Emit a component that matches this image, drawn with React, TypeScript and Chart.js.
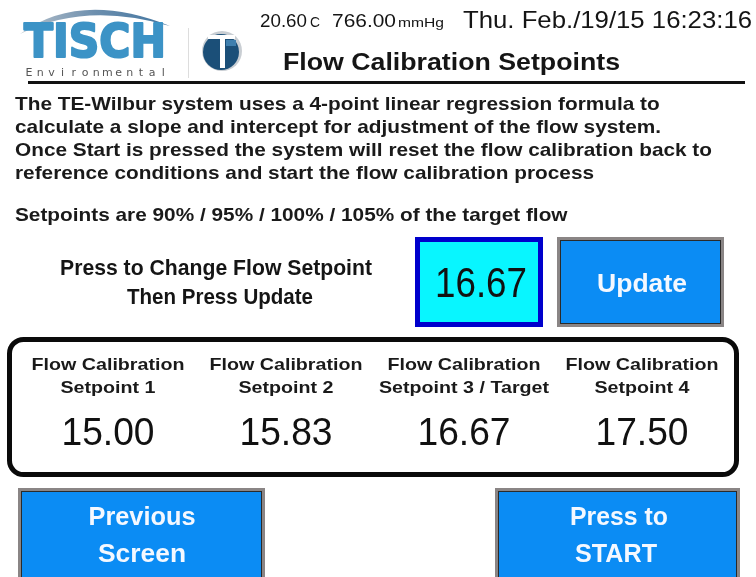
import React, { useEffect, useRef } from "react";
import { Chart, registerables } from "chart.js";

Chart.register(...registerables);

// ---- data ----
const headerLine1 = ["Flow Calibration", "Flow Calibration", "Flow Calibration", "Flow Calibration"];
const setpointNames = ["Setpoint 1", "Setpoint 2", "Setpoint 3 / Target", "Setpoint 4"];
const setpointValues = [15.0, 15.83, 16.67, 17.5];
const setpointPercents = [90, 95, 100, 105];
const targetFlow = 16.67;
const temperature = "20.60";
const pressure = "766.00";
const dateText = "Thu. Feb./19/15 16:23:16";
const titleText = "Flow Calibration Setpoints";
const paragraph = [
  "The TE-Wilbur system uses a 4-point linear regression formula to",
  "calculate a slope and intercept for adjustment of the flow system.",
  "Once Start is pressed the system will reset the flow calibration back to",
  "reference conditions and start the flow calibration process",
];
const setpointNote = "Setpoints are " + setpointPercents.map((p) => p + "%").join(" / ") + " of the target flow";

const NARROW = "'Liberation Sans', Arial, sans-serif";
const SANS = "'Liberation Sans', Arial, sans-serif";
const INK = "#151515";

function txt(ctx: any, s: string, x: number, y: number, font: string, color: any, align: string = "left", sx = 1) {
  ctx.save();
  ctx.font = font;
  ctx.fillStyle = color;
  ctx.textAlign = align;
  ctx.textBaseline = "alphabetic";
  ctx.translate(x, y);
  ctx.scale(sx, 1);
  ctx.fillText(s, 0, 0);
  ctx.restore();
}
function fitScale(ctx: any, s: string, font: string, w: number) {
  ctx.save();
  ctx.font = font;
  const m = ctx.measureText(s).width;
  ctx.restore();
  return w / m;
}
function txtW(ctx: any, s: string, x: number, y: number, font: string, color: any, align: string, w: number) {
  txt(ctx, s, x, y, font, color, align, fitScale(ctx, s, font, w));
}
function button(ctx: any, x1: number, y1: number, x2: number, y2: number) {
  ctx.fillStyle = "#8a8585";
  ctx.fillRect(x1, y1, x2 - x1, y2 - y1);
  ctx.fillStyle = "#2a2a2a";
  ctx.fillRect(x1 + 3, y1 + 3, x2 - x1 - 6, y2 - y1 - 6);
  ctx.fillStyle = "#0b8cf4";
  ctx.fillRect(x1 + 4, y1 + 4, x2 - x1 - 8, y2 - y1 - 8);
}

const screenPlugin = {
  id: "screen",
  beforeDraw(chart: any) {
    const ctx = chart.ctx;
    const xs = chart.scales.x;
    ctx.save();
    ctx.fillStyle = "#ffffff";
    ctx.fillRect(0, 0, chart.width, chart.height);

    // --- logo swoosh ---
    const g = ctx.createLinearGradient(20, 0, 170, 0);
    g.addColorStop(0, "#b9c3cc");
    g.addColorStop(0.5, "#6d8fae");
    g.addColorStop(1, "#3f74a0");
    ctx.fillStyle = g;
    ctx.beginPath();
    ctx.moveTo(20, 34);
    ctx.quadraticCurveTo(80, -10, 170, 26);
    ctx.quadraticCurveTo(85, 1, 20, 34);
    ctx.fill();

    // TISCH
    const tg = ctx.createLinearGradient(0, 22, 0, 57);
    tg.addColorStop(0, "#3c93c6");
    tg.addColorStop(1, "#14587f");
    const tFont = "bold 47px 'DejaVu Sans', sans-serif";
    const sxT = fitScale(ctx, "TISCH", tFont, 142);
    ctx.save();
    ctx.font = tFont;
    ctx.translate(24, 57);
    ctx.scale(sxT, 1);
    ctx.fillStyle = tg;
    ctx.strokeStyle = tg;
    ctx.lineWidth = 2.2;
    ctx.lineJoin = "round";
    ctx.fillText("TISCH", 0, 0);
    ctx.strokeText("TISCH", 0, 0);
    ctx.restore();
    // Environmental
    const env = "Environmental";
    for (let i = 0; i < env.length; i++) {
      txt(ctx, env[i], 29 + i * 11.2, 76, "11px 'DejaVu Sans', sans-serif", "#555", "center");
    }
    // separator
    ctx.strokeStyle = "#dddddd";
    ctx.lineWidth = 1;
    ctx.beginPath();
    ctx.moveTo(188.5, 28);
    ctx.lineTo(188.5, 78);
    ctx.stroke();
    // emblem
    ctx.fillStyle = "#c9ced3";
    ctx.beginPath();
    ctx.arc(222, 51, 20, 0, Math.PI * 2);
    ctx.fill();
    ctx.fillStyle = "#1b4f78";
    ctx.beginPath();
    ctx.arc(221, 52, 18, 0, Math.PI * 2);
    ctx.fill();
    ctx.fillStyle = "#ffffff";
    ctx.fillRect(208, 35, 27, 4);
    ctx.fillRect(220, 35, 5, 33);
    ctx.fillStyle = "#3f7fae";
    ctx.fillRect(226, 40, 10, 6);

    // top status
    txtW(ctx, temperature, 260, 27, "18px " + NARROW, INK, "left", 47);
    txtW(ctx, "C", 310, 27, "14px " + NARROW, INK, "left", 10);
    txtW(ctx, pressure, 332, 27, "18px " + NARROW, INK, "left", 64);
    txtW(ctx, "mmHg", 398, 27, "13px " + NARROW, INK, "left", 46);
    txtW(ctx, dateText, 463, 28, "24px " + NARROW, INK, "left", 289);
    // title
    txtW(ctx, titleText, 283, 70, "bold 23px " + SANS, INK, "left", 337);
    // rule
    ctx.fillStyle = "#111";
    ctx.fillRect(28, 81, 717, 3);

    // paragraph
    const pFont = "bold 19px " + SANS;
    const pScale = fitScale(ctx, paragraph[2], pFont, 697);
    const baselines = [110, 133, 156, 179];
    paragraph.forEach((line, i) => txt(ctx, line, 15, baselines[i], pFont, "#1a1a1a", "left", pScale));
    txt(ctx, setpointNote, 15, 221, pFont, "#1a1a1a", "left", pScale);

    // press to change
    const nb = "bold 22px " + NARROW;
    txtW(ctx, "Press to Change Flow Setpoint", 216, 275, nb, INK, "center", 312);
    txtW(ctx, "Then Press Update", 220, 304, nb, INK, "center", 186);

    // cyan value box
    ctx.fillStyle = "#0000cc";
    ctx.fillRect(415, 237, 128, 90);
    ctx.fillStyle = "#08f6ff";
    ctx.fillRect(420, 242, 118, 80);
    txtW(ctx, targetFlow.toFixed(2), 481, 297, "42px " + NARROW, "#111", "center", 92);

    // update button
    button(ctx, 557, 237, 724, 327);
    txtW(ctx, "Update", 642, 292, "bold 26px " + SANS, "#f4f8ff", "center", 90);

    // panel
    ctx.strokeStyle = "#0a0a0a";
    ctx.lineWidth = 5;
    ctx.beginPath();
    ctx.roundRect(9.5, 339.5, 727, 135, 14);
    ctx.stroke();

    const hFont = "bold 17px " + SANS;
    const hScale = fitScale(ctx, headerLine1[0], hFont, 153);
    const vFont = "39px " + NARROW;
    const vScale = fitScale(ctx, setpointValues[0].toFixed(2), vFont, 93);
    setpointValues.forEach((v, i) => {
      const cx = xs.getPixelForValue(i);
      txt(ctx, headerLine1[i], cx, 370, hFont, "#1a1a1a", "center", hScale);
      txt(ctx, setpointNames[i], cx, 393, hFont, "#1a1a1a", "center", hScale);
      txt(ctx, v.toFixed(2), cx, 445, vFont, "#111", "center", vScale);
    });

    // bottom buttons
    button(ctx, 18, 488, 265, 600);
    button(ctx, 495, 488, 740, 600);
    const bFont = "bold 25px " + SANS;
    txtW(ctx, "Previous", 142, 525, bFont, "#f4f8ff", "center", 107);
    txtW(ctx, "Screen", 142, 562, bFont, "#f4f8ff", "center", 88);
    txtW(ctx, "Press to", 619, 525, bFont, "#f4f8ff", "center", 98);
    txtW(ctx, "START", 616, 562, bFont, "#f4f8ff", "center", 82);
    ctx.restore();
  },
};

export default function App() {
  const ref = useRef<HTMLCanvasElement>(null);
  useEffect(() => {
    if (!ref.current) return;
    const chart = new Chart(ref.current, {
      type: "line",
      data: {
        labels: setpointNames,
        datasets: [
          {
            data: setpointValues,
            showLine: false,
            pointRadius: 0,
            borderColor: "rgba(0,0,0,0)",
            backgroundColor: "rgba(0,0,0,0)",
          },
        ],
      },
      options: {
        animation: false,
        responsive: true,
        maintainAspectRatio: false,
        layout: { padding: { left: 19, right: 25, top: 0, bottom: 0 } },
        scales: {
          x: { display: false, offset: true },
          y: { display: false, min: 0, max: 20 },
        },
        plugins: { legend: { display: false }, tooltip: { enabled: false } },
        events: [],
      },
      plugins: [screenPlugin],
    } as any);
    return () => chart.destroy();
  }, []);
  return (
    <div style={{ position: "fixed", left: 0, top: 0, width: 756, height: 577, background: "#fff" }}>
      <canvas ref={ref} />
    </div>
  );
}
